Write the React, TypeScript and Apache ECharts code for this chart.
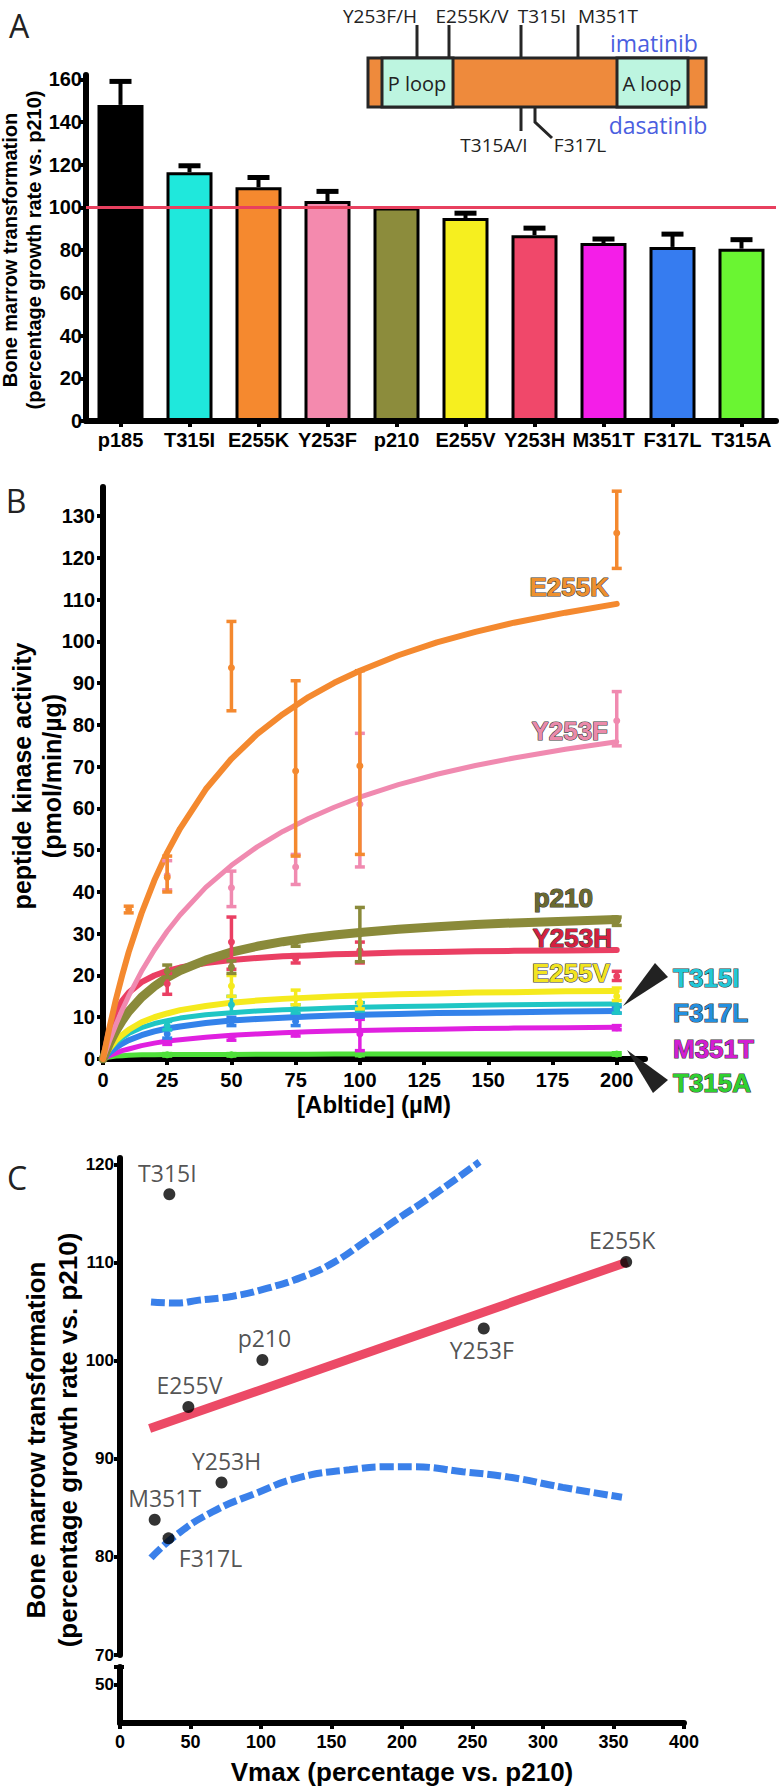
import React, { useEffect, useRef } from 'react';
import * as echarts from 'echarts';

// ---------------- Panel A: bone marrow transformation ----------------
const barCategories = ['p185', 'T315I', 'E255K', 'Y253F', 'p210', 'E255V', 'Y253H', 'M351T', 'F317L', 'T315A'];
const barMeans = [148, 116.5, 109.5, 103, 100, 95, 87, 83.3, 81.5, 80.7];
const barErrorTops = [159, 119.5, 114, 107.5, 100, 97.3, 90.3, 85.2, 87.5, 84.9];
const barReference = 100;
const barYTicks = [0, 20, 40, 60, 80, 100, 120, 140, 160];

// ---------------- Panel B: kinase activity vs [Abltide] ----------------
const abltideConc = [0, 2.5, 5, 7.5, 10, 15, 20, 25, 30, 40, 50, 60, 70, 80, 90, 100, 115, 130, 145, 160, 180, 200];
const fitE255K = [0, 7.5, 14.2, 20.1, 25.6, 34.9, 42.8, 49.5, 55.2, 64.6, 71.9, 77.8, 82.6, 86.7, 90.1, 93.0, 96.7, 99.8, 102.3, 104.5, 106.9, 109.0];
const fitY253F = [0, 4.3, 8.2, 11.8, 15.1, 21.0, 26.1, 30.6, 34.5, 41.1, 46.4, 50.8, 54.5, 57.6, 60.3, 62.7, 65.7, 68.2, 70.3, 72.1, 74.2, 76.0];
const fitP210 = [0, 3.7, 6.7, 9.2, 11.4, 14.8, 17.4, 19.5, 21.2, 23.7, 25.6, 27.0, 28.1, 29.0, 29.7, 30.3, 31.1, 31.7, 32.2, 32.6, 33.0, 33.4];
const fitY253H = [0, 7.1, 11.3, 14.0, 15.9, 18.4, 20.0, 21.1, 21.9, 23.0, 23.7, 24.2, 24.6, 24.8, 25.1, 25.2, 25.5, 25.6, 25.8, 25.9, 26.0, 26.1];
const fitE255V = [0, 2.5, 4.4, 5.8, 7.0, 8.8, 10.0, 10.9, 11.7, 12.7, 13.5, 14.0, 14.4, 14.7, 15.0, 15.2, 15.5, 15.7, 15.9, 16.0, 16.2, 16.3];
const fitT315I = [0, 2.3, 3.9, 5.1, 6.1, 7.5, 8.5, 9.2, 9.8, 10.6, 11.1, 11.5, 11.8, 12.0, 12.2, 12.4, 12.6, 12.7, 12.9, 13.0, 13.1, 13.2];
const fitF317L = [0, 1.5, 2.7, 3.7, 4.5, 5.7, 6.6, 7.3, 7.8, 8.6, 9.2, 9.6, 9.9, 10.2, 10.4, 10.6, 10.8, 11.0, 11.1, 11.2, 11.4, 11.5];
const fitM351T = [0, 0.8, 1.4, 2.0, 2.4, 3.2, 3.8, 4.3, 4.6, 5.2, 5.7, 6.0, 6.3, 6.5, 6.7, 6.8, 7.0, 7.1, 7.3, 7.4, 7.5, 7.6];
const fitT315A = [0, 0.5, 0.7, 0.8, 0.9, 1.0, 1.0, 1.05, 1.1, 1.1, 1.1, 1.15, 1.15, 1.15, 1.2, 1.2, 1.2, 1.2, 1.2, 1.2, 1.2, 1.2];

// measured points: [conc, mean, low, high]
const ptsE255K = [[10, 35.8, 35, 36.6], [25, 43.5, 40, 48.6], [50, 93.7, 83.4, 104.8], [75, 69, 48.6, 90.6], [100, 70.2, 49, 93], [200, 126, 117.5, 136]];
const ptsY253F = [[25, 44, 40.5, 47.5], [50, 41, 36.5, 45], [75, 46, 41.8, 49], [100, 61, 46, 78], [200, 81, 75, 88]];
const ptsP210 = [[25, 21, 19.5, 22.5], [50, 22, 20.5, 23.5], [75, 28, 27, 29], [100, 30, 23.3, 36.3], [200, 33, 32, 34]];
const ptsY253H = [[25, 18, 15.5, 20.5], [50, 28, 21.5, 34], [75, 24, 23, 25], [100, 26, 23, 28], [200, 19.8, 18.8, 21]];
const ptsE255V = [[50, 17.5, 15, 20], [75, 14.5, 13, 16.5], [100, 13.5, 12, 15], [200, 15, 14, 17]];
const ptsT315I = [[25, 8, 7, 9], [50, 13, 11, 15], [75, 12, 11, 13], [100, 12.5, 11.5, 13.5], [200, 12, 11, 13]];
const ptsF317L = [[25, 6, 5, 7], [50, 9, 8, 10], [75, 9, 8, 10.5], [100, 11, 10, 12], [200, 11.5, 11, 12.5]];
const ptsM351T = [[25, 4, 3.5, 4.5], [50, 5, 4.5, 5.5], [75, 6, 5.5, 6.5], [100, 6, 2, 9.5], [200, 7.5, 7, 8]];
const ptsT315A = [[25, 1, 0.7, 1.3], [50, 1, 0.7, 1.3], [100, 1.1, 0.8, 1.4], [200, 1.2, 0.9, 1.5]];

const bXTicks = [0, 25, 50, 75, 100, 125, 150, 175, 200];
const bYTicks = [0, 10, 20, 30, 40, 50, 60, 70, 80, 90, 100, 110, 120, 130];

// ---------------- Panel C: transformation vs Vmax ----------------
const cNames = ['T315I', 'p210', 'E255V', 'E255K', 'Y253F', 'Y253H', 'M351T', 'F317L'];
const cVmax = [35, 101, 48.5, 359, 258, 72, 24.6, 34.4];
const cTransform = [117, 100.1, 95.3, 110.1, 103.3, 87.6, 83.8, 81.9];
const regressionVmax = [21, 360];
const regressionTransform = [93.1, 110.1];
const upperBandVmax = [22, 40, 56, 80, 104, 130, 151, 175, 196, 220, 255];
const upperBandTransform = [106.0, 105.9, 106.2, 106.6, 107.4, 108.6, 110.0, 112.3, 114.4, 116.7, 120.3];
const lowerBandVmax = [22, 39.6, 65.5, 96.4, 127, 162.6, 191, 207, 243, 278, 314, 356];
const lowerBandTransform = [79.9, 82.2, 84.6, 86.5, 88.1, 88.9, 89.2, 89.2, 88.7, 88.1, 87.1, 86.1];
const cXTicks = [0, 50, 100, 150, 200, 250, 300, 350, 400];
const cYTicksUpper = [70, 80, 90, 100, 110, 120];
const cYTicksLower = [50];

// ---------------- styles ----------------
const BOLD = '"Liberation Sans", Arial, sans-serif';
const REG = '"Open Sans", "Liberation Sans", sans-serif';
const barColors = ['#000000', '#1fe8dc', '#f5892f', '#f48aae', '#8c8c3c', '#f6ef1f', '#f0486a', '#f41ee8', '#367cf0', '#6af532'];

const bConfig = [
  { name: 'T315A', fit: fitT315A, pts: ptsT315A, color: '#4fe03a', width: 5 },
  { name: 'M351T', fit: fitM351T, pts: ptsM351T, color: '#e020e0', width: 5 },
  { name: 'F317L', fit: fitF317L, pts: ptsF317L, color: '#3382ea', width: 6 },
  { name: 'T315I', fit: fitT315I, pts: ptsT315I, color: '#1fc6c4', width: 5 },
  { name: 'E255V', fit: fitE255V, pts: ptsE255V, color: '#f5ea1e', width: 6 },
  { name: 'Y253H', fit: fitY253H, pts: ptsY253H, color: '#ea3f63', width: 6 },
  { name: 'p210', fit: fitP210, pts: ptsP210, color: '#8a8a3a', width: 9 },
  { name: 'Y253F', fit: fitY253F, pts: ptsY253F, color: '#f08ab0', width: 5 },
  { name: 'E255K', fit: fitE255K, pts: ptsE255K, color: '#f4892f', width: 6 },
];

const axisLine = { show: true, onZero: false, lineStyle: { color: '#000', width: 6 } };
const tick = (vals: number[]) => ({ show: true, length: 6, lineStyle: { color: '#000', width: 4 }, customValues: vals });
const lbl = (vals: number[], size: number, margin: number) => ({
  show: true, color: '#000', fontWeight: 'bold', fontSize: size, fontFamily: BOLD, margin, customValues: vals,
});

function buildOption() {
  const series: any[] = [];

  // ---- A ----
  series.push({
    type: 'line', xAxisIndex: 0, yAxisIndex: 0, data: [], z: 1, silent: true,
    markLine: {
      silent: true, symbol: 'none', label: { show: false },
      lineStyle: { color: '#e8405f', width: 3, type: 'solid' },
      data: [{ yAxis: barReference }],
    },
  });
  series.push({
    type: 'bar', xAxisIndex: 0, yAxisIndex: 0, barWidth: 46, z: 2,
    itemStyle: { borderColor: '#000', borderWidth: 3 },
    data: barMeans.map((v, i) => ({ value: v, itemStyle: { color: barColors[i] } })),
  });
  series.push({
    type: 'custom', xAxisIndex: 0, yAxisIndex: 0, z: 3,
    data: barMeans.map((v, i) => [i, v, barErrorTops[i]]),
    encode: { x: 0, y: [1, 2] },
    renderItem: (_p: any, api: any) => {
      const i = api.value(0);
      if (api.value(2) <= api.value(1)) return { type: 'group', children: [] };
      const b = api.coord([i, api.value(1)]);
      const t = api.coord([i, api.value(2)]);
      return {
        type: 'group', children: [
          { type: 'line', shape: { x1: b[0], y1: b[1], x2: t[0], y2: t[1] }, style: { stroke: '#000', lineWidth: 4 } },
          { type: 'line', shape: { x1: t[0] - 11, y1: t[1], x2: t[0] + 11, y2: t[1] }, style: { stroke: '#000', lineWidth: 5 } },
        ],
      };
    },
  });

  // ---- B ----
  bConfig.forEach((c) => {
    series.push({
      type: 'line', name: c.name, xAxisIndex: 1, yAxisIndex: 1, z: 3,
      smooth: false, showSymbol: false, silent: true,
      lineStyle: { color: c.color, width: c.width, join: 'round', cap: 'round' },
      data: abltideConc.map((x, i) => [x, c.fit[i]]),
    });
    series.push({
      type: 'custom', xAxisIndex: 1, yAxisIndex: 1, z: 4,
      data: c.pts, encode: { x: 0, y: [1, 2, 3] },
      renderItem: (_p: any, api: any) => {
        const x = api.value(0);
        const m = api.coord([x, api.value(1)]);
        const lo = api.coord([x, api.value(2)]);
        const hi = api.coord([x, api.value(3)]);
        const cw = 5;
        const st = { stroke: c.color, lineWidth: 3.5 };
        return {
          type: 'group', children: [
            { type: 'line', shape: { x1: lo[0], y1: lo[1], x2: hi[0], y2: hi[1] }, style: st },
            { type: 'line', shape: { x1: hi[0] - cw, y1: hi[1], x2: hi[0] + cw, y2: hi[1] }, style: st },
            { type: 'line', shape: { x1: lo[0] - cw, y1: lo[1], x2: lo[0] + cw, y2: lo[1] }, style: st },
            { type: 'circle', shape: { cx: m[0], cy: m[1], r: 3.5 }, style: { fill: c.color } },
          ],
        };
      },
    });
  });

  // ---- C ----
  series.push({
    type: 'line', xAxisIndex: 2, yAxisIndex: 2, z: 2, showSymbol: false, silent: true,
    lineStyle: { color: '#ec4a66', width: 9 },
    data: regressionVmax.map((x, i) => [x, regressionTransform[i]]),
  });
  series.push({
    type: 'line', xAxisIndex: 2, yAxisIndex: 2, z: 2, showSymbol: false, silent: true,
    smooth: true, lineStyle: { color: '#3a80ea', width: 7, type: [14, 4] },
    data: upperBandVmax.map((x, i) => [x, upperBandTransform[i]]),
  });
  series.push({
    type: 'line', xAxisIndex: 2, yAxisIndex: 2, z: 2, showSymbol: false, silent: true,
    smooth: true, lineStyle: { color: '#3a80ea', width: 7, type: [14, 4] },
    data: lowerBandVmax.map((x, i) => [x, lowerBandTransform[i]]),
  });
  const labelPos: Record<string, any> = {
    T315I: { position: 'top', offset: [-2, 0] },
    p210: { position: 'top', offset: [2, 0] },
    E255V: { position: 'top', offset: [1, 0] },
    E255K: { position: 'top', offset: [-4, 0] },
    Y253F: { position: 'bottom', offset: [-2, 0] },
    Y253H: { position: 'top', offset: [5, 0] },
    M351T: { position: 'top', offset: [10, 0] },
    F317L: { position: 'bottom', offset: [42, -2] },
  };
  series.push({
    type: 'scatter', xAxisIndex: 2, yAxisIndex: 2, z: 5, symbolSize: 12,
    itemStyle: { color: '#000' },
    data: cNames.map((n, i) => ({
      name: n, value: [cVmax[i], cTransform[i]],
      label: {
        show: true, formatter: n, distance: 4, color: '#262626', fontSize: 23, fontFamily: REG,
        ...labelPos[n],
      },
    })),
  });

  const graphic: any[] = [];
  const txt = (x: number, y: number, text: string, style: any, extra: any = {}) => ({
    type: 'text', x, y, z: 100, ...extra,
    style: { text, align: 'center', verticalAlign: 'middle', fill: '#000', ...style },
  });
  // panel letters
  graphic.push(txt(19, 25, 'A', { fontSize: 32, fontFamily: REG, fill: '#222' }));
  graphic.push(txt(16, 500, 'B', { fontSize: 32, fontFamily: REG, fill: '#222' }));
  graphic.push(txt(17, 1177, 'C', { fontSize: 32, fontFamily: REG, fill: '#222' }));
  // y titles
  graphic.push(txt(22, 250, 'Bone marrow transformation\n(percentage growth rate vs. p210)',
    { fontSize: 20, fontWeight: 'bold', fontFamily: BOLD, lineHeight: 24 }, { rotation: Math.PI / 2 }));
  graphic.push(txt(37, 776, 'peptide kinase activity\n(pmol/min/µg)',
    { fontSize: 25, fontWeight: 'bold', fontFamily: BOLD, lineHeight: 30 }, { rotation: Math.PI / 2 }));
  graphic.push(txt(52, 1440, 'Bone marrow transformation\n(percentage growth rate vs. p210)',
    { fontSize: 26, fontWeight: 'bold', fontFamily: BOLD, lineHeight: 32 }, { rotation: Math.PI / 2 }));

  // inset domain diagram
  const dk = '#262626';
  graphic.push({ type: 'rect', z: 100, shape: { x: 368, y: 58, width: 338, height: 49 }, style: { fill: '#ee8a3c', stroke: dk, lineWidth: 3 } });
  graphic.push({ type: 'rect', z: 101, shape: { x: 382, y: 58, width: 71, height: 49 }, style: { fill: '#bdf5e0', stroke: dk, lineWidth: 3 } });
  graphic.push({ type: 'rect', z: 101, shape: { x: 617, y: 58, width: 71, height: 49 }, style: { fill: '#bdf5e0', stroke: dk, lineWidth: 3 } });
  [417, 449, 521, 578].forEach((x) => graphic.push({ type: 'line', z: 100, shape: { x1: x, y1: 25, x2: x, y2: 58 }, style: { stroke: dk, lineWidth: 3 } }));
  graphic.push({ type: 'line', z: 100, shape: { x1: 521, y1: 107, x2: 521, y2: 131 }, style: { stroke: dk, lineWidth: 3 } });
  graphic.push({ type: 'polyline', z: 100, shape: { points: [[535, 107], [535, 122], [552, 138]] }, style: { stroke: dk, lineWidth: 3, fill: 'none' } });
  const insetFont = { fontSize: 19, fontFamily: REG, fill: '#222' };
  graphic.push(txt(380, 16, 'Y253F/H', insetFont));
  graphic.push(txt(472, 16, 'E255K/V', insetFont));
  graphic.push(txt(542, 16, 'T315I', insetFont));
  graphic.push(txt(608, 16, 'M351T', insetFont));
  graphic.push(txt(494, 145, 'T315A/I', insetFont));
  graphic.push(txt(580, 145, 'F317L', insetFont));
  graphic.push(txt(417, 83, 'P loop', { fontSize: 20, fontFamily: REG, fill: '#222' }, { z: 102 }));
  graphic.push(txt(652, 83, 'A loop', { fontSize: 20, fontFamily: REG, fill: '#222' }, { z: 102 }));
  graphic.push(txt(654, 43, 'imatinib', { fontSize: 23, fontFamily: REG, fill: '#4a5ee0' }));
  graphic.push(txt(658, 125, 'dasatinib', { fontSize: 23, fontFamily: REG, fill: '#4a5ee0' }));

  // panel B curve labels
  const bl = (x: number, y: number, t: string, fill: string, align: string) =>
    txt(x, y, t, { fontSize: 26, fontWeight: 'bold', fontFamily: BOLD, fill, stroke: '#3a3a3a', lineWidth: 1.2, align });
  graphic.push(bl(609, 587, 'E255K', '#ee902e', 'right'));
  graphic.push(bl(608, 731, 'Y253F', '#ea8aaa', 'right'));
  graphic.push(bl(593, 898, 'p210', '#6a6a30', 'right'));
  graphic.push(bl(612, 938, 'Y253H', '#d4203f', 'right'));
  graphic.push(bl(610, 973, 'E255V', '#f2e420', 'right'));
  graphic.push(bl(673, 978, 'T315I', '#22c8d8', 'left'));
  graphic.push(bl(673, 1013, 'F317L', '#2390e0', 'left'));
  graphic.push(bl(673, 1049, 'M351T', '#d21ed2', 'left'));
  graphic.push(bl(673, 1083, 'T315A', '#30d030', 'left'));
  graphic.push({ type: 'polygon', z: 100, shape: { points: [[623, 1006], [655, 963], [668, 977]] }, style: { fill: '#222' } });
  graphic.push({ type: 'polygon', z: 100, shape: { points: [[627, 1050], [653, 1093], [668, 1080]] }, style: { fill: '#222' } });

  // axis break cap in panel C
  graphic.push({ type: 'line', z: 100, shape: { x1: 114, y1: 1667, x2: 124, y2: 1667 }, style: { stroke: '#000', lineWidth: 4 } });

  const grids = [
    { left: 86, top: 75, width: 690, height: 346 },
    { left: 103, top: 487, width: 542, height: 572 },
    { left: 120, top: 1158, width: 564, height: 497 },
    { left: 120, top: 1667, width: 564, height: 56 },
  ].map((g) => ({ ...g, containLabel: false, outerBoundsMode: 'none', show: false }));

  return {
    animation: false,
    backgroundColor: '#fff',
    grid: grids,
    xAxis: [
      {
        type: 'category', gridIndex: 0, data: barCategories, axisLine,
        axisTick: { show: true, alignWithLabel: true, length: 6, lineStyle: { color: '#000', width: 4 } },
        axisLabel: { interval: 0, color: '#000', fontWeight: 'bold', fontSize: 20, fontFamily: BOLD, margin: 9 },
        splitLine: { show: false },
      },
      {
        type: 'value', gridIndex: 1, min: 0, max: 211, axisLine, axisTick: tick(bXTicks),
        axisLabel: lbl(bXTicks, 20, 11), splitLine: { show: false },
        name: '[Abltide] (µM)', nameLocation: 'middle', nameGap: 33,
        nameTextStyle: { color: '#000', fontWeight: 'bold', fontSize: 24, fontFamily: BOLD },
      },
      { type: 'value', gridIndex: 2, min: 0, max: 400, show: false },
      {
        type: 'value', gridIndex: 3, min: 0, max: 400, axisLine, axisTick: tick(cXTicks),
        axisLabel: lbl(cXTicks, 18, 10), splitLine: { show: false },
        name: 'Vmax (percentage vs. p210)', nameLocation: 'middle', nameGap: 36,
        nameTextStyle: { color: '#000', fontWeight: 'bold', fontSize: 26, fontFamily: BOLD },
      },
    ],
    yAxis: [
      { type: 'value', gridIndex: 0, min: 0, max: 162, axisLine, axisTick: tick(barYTicks), axisLabel: lbl(barYTicks, 20, 4), splitLine: { show: false } },
      { type: 'value', gridIndex: 1, min: 0, max: 137, axisLine, axisTick: tick(bYTicks), axisLabel: lbl(bYTicks, 20, 8), splitLine: { show: false } },
      { type: 'value', gridIndex: 2, min: 70, max: 120.7, axisLine, axisTick: tick(cYTicksUpper), axisLabel: lbl(cYTicksUpper, 17, 6), splitLine: { show: false } },
      { type: 'value', gridIndex: 3, min: 46.1, max: 51.8, axisLine, axisTick: tick(cYTicksLower), axisLabel: lbl(cYTicksLower, 17, 6), splitLine: { show: false } },
    ],
    series,
    graphic,
  };
}

export default function App() {
  const ref = useRef<HTMLDivElement>(null);
  useEffect(() => {
    document.body.style.margin = '0';
    const chart = echarts.init(ref.current as HTMLDivElement, null, { renderer: 'svg' });
    chart.setOption(buildOption() as any);
    return () => chart.dispose();
  }, []);
  return <div ref={ref} style={{ width: 780, height: 1787 }} />;
}
